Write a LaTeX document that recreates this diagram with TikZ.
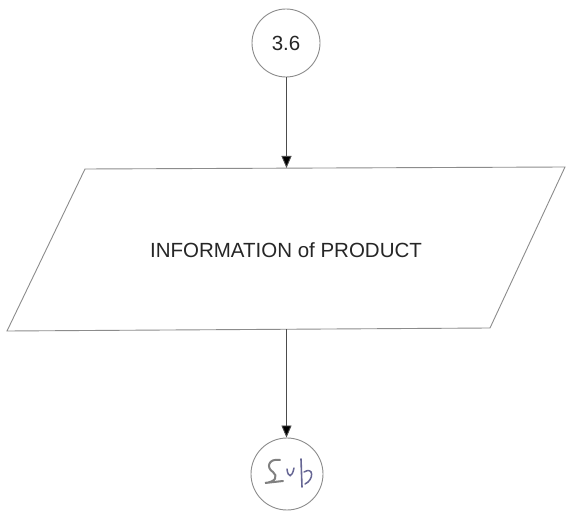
\documentclass[tikz,border=0pt]{standalone}
\usepackage{fontspec}
\setmainfont{Liberation Sans}
\usetikzlibrary{arrows.meta}
\begin{document}
\begin{tikzpicture}[x=1pt,y=-1pt,
  line/.style={draw=black!45,line width=0.9pt},
  conn/.style={draw=black!70,line width=0.9pt,-{Triangle[length=12pt,width=10pt,fill=black]}},
  lbl/.style={font=\fontsize{20.5}{24}\selectfont,text=black!85}]
\useasboundingbox[fill=white] (0,0) rectangle (566,513);
\node[circle,line,minimum size=68pt,inner sep=0pt,lbl] (c1) at (286,43) {3.6};
\coordinate (tl) at (85,169);
\coordinate (tr) at (565,167);
\coordinate (br) at (490,328);
\coordinate (bl) at (7,331);
\draw[line] (tl) -- (tr) -- (br) -- (bl) -- cycle;
\coordinate (ptop) at (286.5,168);
\coordinate (pbot) at (286.5,329.5);
\node[lbl] (t) at (286,250) {INFORMATION of PRODUCT};
\node[circle,line,minimum size=72pt,inner sep=0pt] (c2) at (287,474) {};
\draw[conn] (c1.south -| ptop) -- (ptop);
\draw[conn] (pbot) -- (c2.north -| pbot);
% handwritten mark inside the bottom circle
\draw[black!50,line width=2pt,line cap=round] (280,460) .. controls (268,458) and (266,468) .. (273,472) .. controls (278,476) and (276,482) .. (265,483) -- (283,481);
\draw[blue!30!black!60,line width=1.5pt,line cap=round] (287,469) .. controls (288,478) and (292,478) .. (294,468);
\draw[blue!30!black!60,line width=1.6pt,line cap=round] (301,459) -- (302,487);
\draw[blue!30!black!60,line width=1.5pt,line cap=round] (304,472) .. controls (314,466) and (314,480) .. (305,484);
\end{tikzpicture}
\end{document}
